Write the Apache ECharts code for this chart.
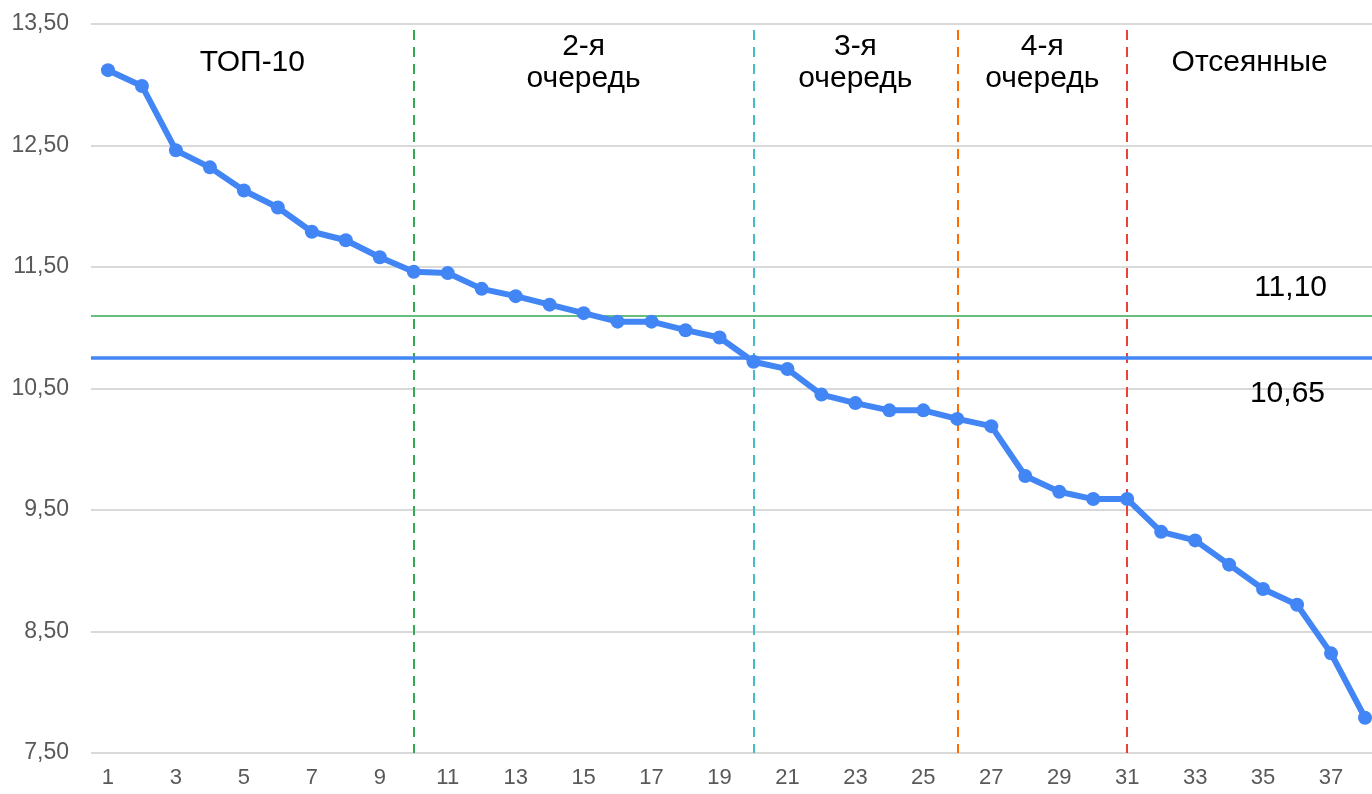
<!DOCTYPE html>
<html><head><meta charset="utf-8">
<script src="https://cdn.jsdelivr.net/npm/echarts@6/dist/echarts.min.js"></script>
<style>html,body{margin:0;padding:0;background:#fff}#c{width:1372px;height:794px}</style>
</head><body><div id="c"></div>
<script>
const categories = ['1','2','3','4','5','6','7','8','9','10','11','12','13','14','15','16','17','18','19','20','21','22','23','24','25','26','27','28','29','30','31','32','33','34','35','36','37','38'];
const scores = [13.12,12.99,12.46,12.32,12.13,11.99,11.79,11.72,11.58,11.46,11.45,11.32,11.26,11.19,11.12,11.05,11.05,10.98,10.92,10.72,10.66,10.45,10.38,10.32,10.32,10.25,10.19,9.78,9.65,9.59,9.59,9.32,9.25,9.05,8.85,8.72,8.32,7.79];
const yTicks = [7.5,8.5,9.5,10.5,11.5,12.5,13.5];
const refValues = [11.10, 10.75];
const refLabels = ['11,10', '10,65'];
const sectionBounds = ['10','20','26','31'];
const sectionNames = ['ТОП-10', '2-я\nочередь', '3-я\nочередь', '4-я\nочередь', 'Отсеянные'];
const boundColors = ['#34A853','#46BDC6','#FF6D01','#EA4335'];

const FONT = 'Liberation Sans, Arial, sans-serif';
const chart = echarts.init(document.getElementById('c'));
const fmt = v => v.toFixed(2).replace('.', ',');

const option = {
  animation: false,
  backgroundColor: '#fff',
  grid: { left: 91, width: 1291, top: 24, bottom: 41, containLabel: false, outerBoundsMode: 'none' },
  xAxis: {
    type: 'category', data: categories, boundaryGap: true,
    axisLine: { show: false }, axisTick: { show: false },
    axisLabel: { interval: 1, color: '#595959', fontSize: 22, fontFamily: FONT, margin: 14 }
  },
  yAxis: {
    type: 'value', min: 7.5, max: 13.5,
    axisLine: { show: false },
    axisTick: { show: false, customValues: yTicks },
    axisLabel: { customValues: yTicks, color: '#595959', fontSize: 23, fontFamily: FONT, margin: 22, formatter: fmt },
    splitLine: { show: true, lineStyle: { color: '#d9d9d9', width: 2 } }
  },
  series: [
    {
      type: 'line', data: [], z: 1, silent: true,
      markLine: {
        symbol: 'none', silent: true,
        data: sectionBounds.map((b, i) => ([
          { coord: [b, 13.45], lineStyle: { color: boundColors[i], type: [10, 7], width: 2 }, label: { show: false } },
          { coord: [b, 7.5] }
        ])).concat(refValues.map((v, i) => ({
          yAxis: v,
          lineStyle: i === 0 ? { color: '#34A853', type: 'solid', width: 1.5 } : { color: '#4285F4', type: 'solid', width: 3.5 },
          label: {
            show: true, formatter: refLabels[i],
            position: i === 0 ? 'insideEndTop' : 'insideEndBottom',
            distance: i === 0 ? [55, 13] : [57, 21],
            color: '#000', fontSize: 30, fontFamily: FONT
          }
        })))
      }
    },
    {
      type: 'line', data: scores, z: 5,
      symbol: 'circle', symbolSize: 14, showAllSymbol: true,
      itemStyle: { color: '#4285F4' },
      lineStyle: { color: '#4285F4', width: 6 }
    }
  ]
};
chart.setOption(option);

// section labels positioned via the axis scale
const W = chart.getWidth();
const xs = [91].concat(sectionBounds.map(b => chart.convertToPixel({ xAxisIndex: 0 }, b))).concat([W]);
const yTop = chart.convertToPixel({ yAxisIndex: 0 }, 13.5);
const graphics = sectionNames.map((name, i) => ({
  type: 'text',
  x: (xs[i] + xs[i + 1]) / 2,
  y: yTop + 39,
  style: {
    text: name, fill: '#000', font: '30px ' + FONT,
    align: 'center', verticalAlign: 'middle', lineHeight: 32
  },
  z: 10
}));
chart.setOption({ graphic: graphics });
</script></body></html>
